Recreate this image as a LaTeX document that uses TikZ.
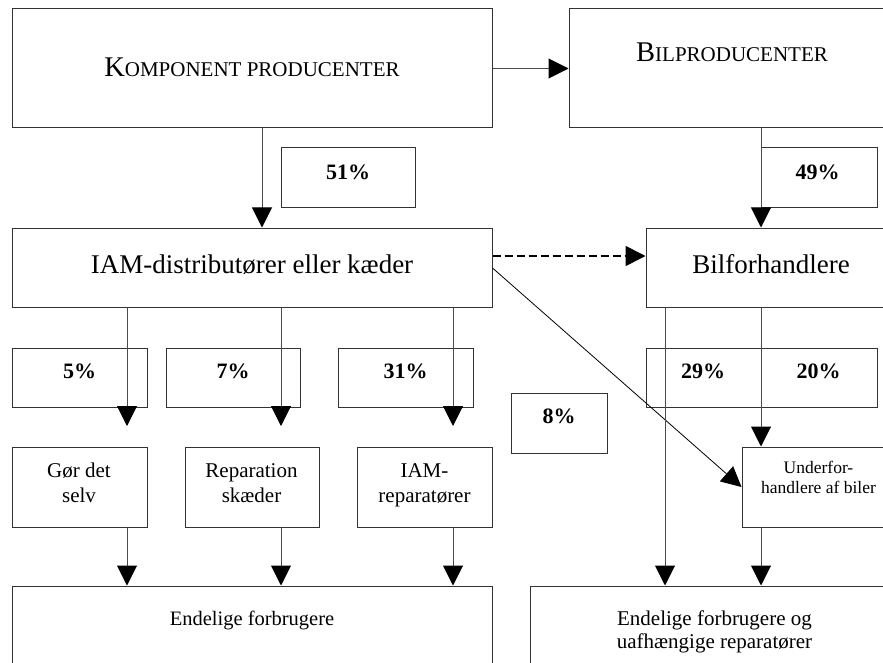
\documentclass[tikz,border=0pt]{standalone}
\usepackage{fontspec}
\setmainfont{Liberation Serif}
\usetikzlibrary{arrows.meta,fit}
\begin{document}
\begin{tikzpicture}[x=1pt,y=-1pt,
  box/.style={draw=black!80, line width=1pt, inner sep=0pt},
  conn/.style={draw=black!70, line width=1pt, -{Triangle[width=20pt,length=20pt,color=black]}},
  txt/.style={anchor=base, inner sep=0pt, align=center},
  big/.style={txt, font=\fontsize{27}{30}\selectfont},
  mid/.style={txt, font=\fontsize{21}{25}\selectfont},
  pct/.style={txt, font=\fontsize{22}{25}\selectfont\bfseries}]
\useasboundingbox (0,0) rectangle (883,663);
\begin{scope}
\clip (0,0) rectangle (883,663);
% boxes
\node[box, fit={(12,9) (492,128)}] (kp) {};
\node[box, fit={(569,9) (895,128)}] (bp) {};
\node[box, fit={(281,148) (415,208)}] (p51) {};
\node[box, fit={(761,148) (877,208)}] (p49) {};
\node[box, fit={(12,228) (492,307)}] (iam) {};
\node[box, fit={(646,228) (895,307)}] (bf) {};
\node[box, fit={(12,348) (147,407)}] (p5) {};
\node[box, fit={(166,348) (300,407)}] (p7) {};
\node[box, fit={(338,348) (473,407)}] (p31) {};
\node[box, fit={(511,393) (607,453)}] (p8) {};
\node[box, fit={(646,348) (761,407)}] (p29) {};
\node[box, fit={(761,348) (877,407)}] (p20) {};
\node[box, fit={(12,447) (147,527)}] (gds) {};
\node[box, fit={(185,447) (319,527)}] (rep) {};
\node[box, fit={(357,447) (492,527)}] (iamr) {};
\node[box, fit={(742,447) (895,527)}] (uf) {};
\node[box, fit={(12,586) (492,700)}] (ef) {};
\node[box, fit={(530,586) (899,700)}] (ef2) {};
% texts
\node[txt] (tkp) at (252,77) {\fontsize{28.5}{30}\selectfont K\fontsize{21}{24}\selectfont OMPONENT PRODUCENTER};
\node[txt] (tbp) at (732,62) {\fontsize{28.5}{30}\selectfont B\fontsize{21}{24}\selectfont ILPRODUCENTER};
\node[pct] (t51) at (348,180) {51\%};
\node[pct] (t49) at (817.5,180) {49\%};
\node[big] (tiam) at (252,273) {IAM-distributører eller kæder};
\node[big] (tbf) at (771,273) {Bilforhandlere};
\node[pct] (t5) at (79.5,378) {5\%};
\node[pct] (t7) at (233,378) {7\%};
\node[pct] (t31) at (405.5,378) {31\%};
\node[pct] (t8) at (559,423) {8\%};
\node[pct] (t29) at (703,378) {29\%};
\node[pct] (t20) at (818.5,378) {20\%};
\node[mid] (tgds) at (79,502) {Gør det\\selv};
\node[mid] (trep) at (251.5,502) {Reparation\\skæder};
\node[mid] (tiamr) at (424.5,502) {IAM-\\reparatører};
\node[txt, font=\fontsize{17.5}{19.5}\selectfont] (tuf) at (818.5,493) {Underfor-\\handlere af biler};
\node[txt, font=\fontsize{20.5}{23}\selectfont] (tef) at (252,625) {Endelige forbrugere};
\node[txt, font=\fontsize{21}{23}\selectfont] (tef2) at (714.5,648) {Endelige forbrugere og\\uafhængige reparatører};
% helper coordinates
\coordinate (a51) at (262,0);
\coordinate (a49) at (761,0);
\coordinate (a5) at (127,426);
\coordinate (a7) at (281,426);
\coordinate (a31) at (453,426);
\coordinate (a29) at (665,0);
\coordinate (dl) at (0,256);
% connectors
\draw[conn] (kp.east) -- (bp.west);
\draw[conn] (kp.south -| a51) -- (iam.north -| a51);
\draw[conn] (bp.south -| a49) -- (bf.north -| a49);
\draw[conn, draw=black, line width=1.6pt, dash pattern=on 8pt off 4pt] (iam.east |- dl) -- (bf.west |- dl);
\draw[conn, line width=0.8pt, draw=black] ([yshift=-0.5pt]iam.east) -- (uf.west);
\draw[conn] (iam.south -| a5) -- (a5);
\draw[conn] (iam.south -| a7) -- (a7);
\draw[conn] (iam.south -| a31) -- (a31);
\draw[conn] (gds.south -| a5) -- (ef.north -| a5);
\draw[conn] (rep.south -| a7) -- (ef.north -| a7);
\draw[conn] (iamr.south -| a31) -- (ef.north -| a31);
\draw[conn] (bf.south -| a29) -- (ef2.north -| a29);
\draw[conn] (bf.south -| a49) -- (uf.north -| a49);
\draw[conn] (uf.south -| a49) -- (ef2.north -| a49);
\end{scope}
\end{tikzpicture}
\end{document}
